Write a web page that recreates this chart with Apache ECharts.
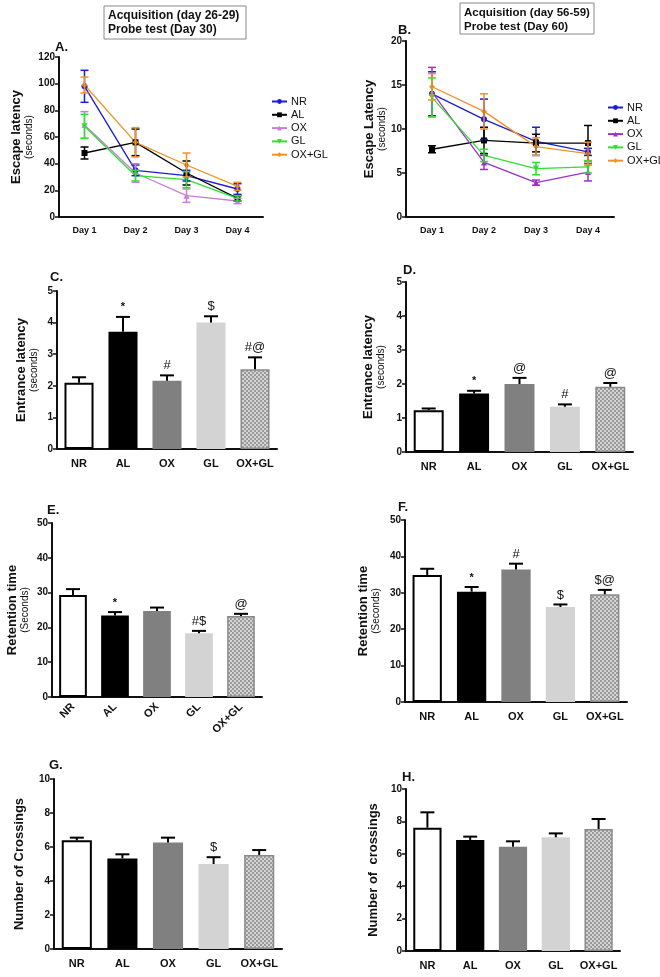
<!DOCTYPE html>
<html><head><meta charset="utf-8">
<script src="https://cdn.jsdelivr.net/npm/echarts@6/dist/echarts.min.js"></script>
<style>html,body{margin:0;padding:0;background:#fff}#c{width:660px;height:977px}</style>
</head><body><div id="c"></div>
<script>
// ---------- DATA ----------
const days = ['Day 1', 'Day 2', 'Day 3', 'Day 4'];
const groups = ['NR', 'AL', 'OX', 'GL', 'OX+GL'];

// Panel A: escape latency (day 26-29)
const aNR = [98, 35, 31, 21],  aNRerr = [12, 4, 4, 4];
const aAL = [48, 56, 33, 14],  aALerr = [4.5, 10, 9, 2];
const aOX = [69, 33, 16, 12],  aOXerr = [10, 7, 5, 2];
const aGL = [68, 31, 28, 14],  aGLerr = [9, 4, 6, 2];
const aOG = [99, 56, 39, 23],  aOGerr = [6, 11, 9, 3];

// Panel B: escape latency (day 56-59)
const bNR = [14.0, 11.1, 8.6, 7.4], bNRerr = [2.5, 2.3, 1.6, 0.4];
const bAL = [7.7, 8.7, 8.4, 8.4],   bALerr = [0.4, 1.5, 1.0, 2.0];
const bOX = [14.2, 6.2, 3.9, 5.1],  bOXerr = [2.8, 0.8, 0.3, 1.0];
const bGL = [13.6, 7.0, 5.5, 5.7],  bGLerr = [2.2, 0.7, 0.7, 0.7];
const bOG = [14.8, 12.0, 8.0, 7.2], bOGerr = [1.5, 2.0, 1.0, 1.3];

// Bar panels
const cVals = [2.10, 3.71, 2.16, 4.00, 2.52], cErr = [0.17, 0.47, 0.17, 0.20, 0.38], cSig = ['', '*', '#', '$', '#@'];
const dVals = [1.23, 1.72, 2.00, 1.33, 1.92], dErr = [0.05, 0.08, 0.18, 0.07, 0.11], dSig = ['', '*', '@', '#', '@'];
const eVals = [29.3, 23.4, 24.7, 18.3, 23.3], eErr = [1.7, 1.0, 1.0, 0.7, 0.6], eSig = ['', '*', '', '#$', '@'];
const fVals = [34.9, 30.3, 36.4, 26.1, 29.6], fErr = [1.7, 1.3, 1.6, 0.7, 1.2], fSig = ['', '*', '#', '$', '$@'];
const gVals = [6.39, 5.33, 6.27, 5.00, 5.53], gErr = [0.16, 0.24, 0.28, 0.40, 0.29], gSig = ['', '', '', '$', ''];
const hVals = [7.61, 6.85, 6.44, 7.02, 7.53], hErr = [0.95, 0.21, 0.33, 0.24, 0.62], hSig = ['', '', '', '', ''];

// ---------- STYLE ----------
const FONT = '"Liberation Sans", Arial, sans-serif';
const checker = document.createElement('canvas');
checker.width = 4; checker.height = 4;
(function () {
  const cx = checker.getContext('2d');
  cx.fillStyle = '#d4d4d4'; cx.fillRect(0, 0, 4, 4);
  cx.fillStyle = '#9a9a9a'; cx.fillRect(0, 0, 2, 2); cx.fillRect(2, 2, 2, 2);
})();
const barStyles = [
  { color: '#ffffff', borderColor: '#000', borderWidth: 2 },
  { color: '#000000' },
  { color: '#808080' },
  { color: '#d3d3d3' },
  { color: { image: checker, repeat: 'repeat' }, borderColor: '#8a8a8a', borderWidth: 1.5 }
];

const grids = [
  { left: 59, top: 57, width: 204, height: 160 },   // A
  { left: 406, top: 41, width: 208, height: 176 },  // B
  { left: 57, top: 291, width: 220, height: 158 },  // C
  { left: 406, top: 282, width: 227, height: 170 }, // D
  { left: 52, top: 523, width: 210, height: 174 },  // E
  { left: 405, top: 520, width: 222, height: 182 }, // F
  { left: 54, top: 779, width: 228, height: 170 },  // G
  { left: 406, top: 789, width: 214, height: 162 }  // H
];

function xAxis(i, data, rotate) {
  return {
    type: 'category', gridIndex: i, data: data,
    axisLine: { lineStyle: { color: '#111', width: 2 } },
    axisTick: { alignWithLabel: true, length: 4, lineStyle: { color: '#111', width: 1.5 } },
    axisLabel: { interval: 0, color: '#111', fontFamily: FONT, fontWeight: 'bold', fontSize: i < 2 ? 9 : 11, rotate: rotate || 0, margin: rotate ? 8 : 9 },
    splitLine: { show: false }
  };
}
function yAxis(i, max, interval, name, gap) {
  return {
    type: 'value', gridIndex: i, min: 0, max: max, interval: interval,
    axisLine: { show: true, lineStyle: { color: '#111', width: 2 } },
    axisTick: { show: true, length: 4, lineStyle: { color: '#111', width: 1.5 } },
    axisLabel: { color: '#111', fontFamily: FONT, fontWeight: 'bold', fontSize: 10, margin: 4 },
    splitLine: { show: false },
    name: name, nameLocation: 'middle', nameGap: gap, nameRotate: 90,
    nameTextStyle: {
      color: '#111', fontFamily: FONT, align: 'center',
      rich: {
        a: { fontFamily: FONT, fontWeight: 'bold', fontSize: 13, color: '#111', lineHeight: 14 },
        b: { fontFamily: FONT, fontSize: 10, color: '#111', lineHeight: 12 }
      }
    }
  };
}

const series = [];
function addLine(gi, name, vals, errs, color, symbol, rotate) {
  series.push({
    type: 'line', name: name, xAxisIndex: gi, yAxisIndex: gi, data: vals,
    symbol: symbol, symbolSize: 6, symbolRotate: rotate || 0,
    itemStyle: { color: color }, lineStyle: { color: color, width: 1.3 }, z: 3
  });
  series.push({
    type: 'custom', xAxisIndex: gi, yAxisIndex: gi, z: 4, silent: true,
    encode: { x: 0, y: 1 },
    data: vals.map((v, k) => [k, v, errs[k]]),
    renderItem: function (params, api) {
      const x = api.value(0), v = api.value(1), e = api.value(2);
      const t = api.coord([x, v + e]), b = api.coord([x, v - e]);
      const st = { stroke: color, lineWidth: 1.5 };
      return { type: 'group', children: [
        { type: 'line', shape: { x1: t[0], y1: t[1], x2: b[0], y2: b[1] }, style: st },
        { type: 'line', shape: { x1: t[0] - 4, y1: t[1], x2: t[0] + 4, y2: t[1] }, style: st },
        { type: 'line', shape: { x1: b[0] - 4, y1: b[1], x2: b[0] + 4, y2: b[1] }, style: st }
      ] };
    }
  });
}
function addBars(gi, vals, errs, sig) {
  series.push({
    type: 'bar', xAxisIndex: gi, yAxisIndex: gi, barWidth: '66%',
    data: vals.map((v, k) => ({ value: v, itemStyle: barStyles[k] })), z: 2
  });
  series.push({
    type: 'custom', xAxisIndex: gi, yAxisIndex: gi, z: 4, silent: true,
    encode: { x: 0, y: 1 },
    data: vals.map((v, k) => [k, v, errs[k]]),
    renderItem: function (params, api) {
      const x = api.value(0), v = api.value(1), e = api.value(2);
      const s = sig[params.dataIndex];
      const t = api.coord([x, v + e]), b = api.coord([x, v]);
      const st = { stroke: '#000', lineWidth: 2 };
      const ch = [
        { type: 'line', shape: { x1: t[0], y1: t[1], x2: b[0], y2: b[1] }, style: st },
        { type: 'line', shape: { x1: t[0] - 7, y1: t[1], x2: t[0] + 7, y2: t[1] }, style: st }
      ];
      if (s) {
        const star = s === '*';
        ch.push({ type: 'text', style: {
          text: s, x: t[0], y: t[1] - (star ? 4 : 3), align: 'center', verticalAlign: 'bottom',
          font: (star ? 'bold 11px ' : '13px ') + FONT, fill: '#111'
        } });
      }
      return { type: 'group', children: ch };
    }
  });
}

const symNR = 'circle', symAL = 'rect', symOX = 'triangle', symGL = 'triangle', symOG = 'diamond';
const colA = ['#1c1cd6', '#000000', '#c77ddc', '#2fe02f', '#f39222'];
const colB = ['#1c1cd6', '#000000', '#9b30cc', '#2fe02f', '#f39222'];
addLine(0, 'NR', aNR, aNRerr, colA[0], symNR);
addLine(0, 'AL', aAL, aALerr, colA[1], symAL);
addLine(0, 'OX', aOX, aOXerr, colA[2], symOX);
addLine(0, 'GL', aGL, aGLerr, colA[3], symGL, 180);
addLine(0, 'OX+GL', aOG, aOGerr, colA[4], symOG);
addLine(1, 'NR', bNR, bNRerr, colB[0], symNR);
addLine(1, 'AL', bAL, bALerr, colB[1], symAL);
addLine(1, 'OX', bOX, bOXerr, colB[2], symOX);
addLine(1, 'GL', bGL, bGLerr, colB[3], symGL, 180);
addLine(1, 'OX+GL', bOG, bOGerr, colB[4], symOG);
addBars(2, cVals, cErr, cSig);
addBars(3, dVals, dErr, dSig);
addBars(4, eVals, eErr, eSig);
addBars(5, fVals, fErr, fSig);
addBars(6, gVals, gErr, gSig);
addBars(7, hVals, hErr, hSig);

function legendData(cols) {
  return groups.map((g, k) => ({ name: g, itemStyle: { color: cols[k] }, lineStyle: { color: cols[k] } }));
}
function legend(left, top, cols) {
  return {
    orient: 'vertical', left: left, top: top, itemWidth: 15, itemHeight: 6, itemGap: 2.3,
    selectedMode: false, data: legendData(cols),
    textStyle: { fontFamily: FONT, fontSize: 11, color: '#111', padding: [0, 0, 0, -1] }
  };
}

function box(x, y, w, h, l1, l2, fs) {
  return { type: 'group', children: [
    { type: 'rect', shape: { x: x, y: y, width: w, height: h }, style: { fill: '#fff', stroke: '#888', lineWidth: 1 } },
    { type: 'text', style: { text: l1, x: x + 4, y: y + 10, verticalAlign: 'middle', font: 'bold ' + fs + 'px ' + FONT, fill: '#111' } },
    { type: 'text', style: { text: l2, x: x + 4, y: y + 24, verticalAlign: 'middle', font: 'bold ' + fs + 'px ' + FONT, fill: '#111' } }
  ] };
}
function plabel(t, x, y) {
  return { type: 'text', style: { text: t, x: x, y: y, verticalAlign: 'middle', font: 'bold 13px ' + FONT, fill: '#111' } };
}

const option = {
  animation: false,
  backgroundColor: '#fff',
  grid: grids,
  xAxis: [
    xAxis(0, days), xAxis(1, days), xAxis(2, groups), xAxis(3, groups),
    xAxis(4, groups, 45), xAxis(5, groups), xAxis(6, groups), xAxis(7, groups)
  ],
  yAxis: [
    yAxis(0, 120, 20, '{a|Escape latency}\n{b|(seconds)}', 18),
    yAxis(1, 20, 5, '{a|Escape Latency}\n{b|(seconds)}', 18),
    yAxis(2, 5, 1, '{a|Entrance latency}\n{b|(seconds)}', 17),
    yAxis(3, 5, 1, '{a|Entrance latency}\n{b|(seconds)}', 19),
    yAxis(4, 50, 10, '{a|Retention time}\n{b|(Seconds)}', 21),
    yAxis(5, 50, 10, '{a|Retention time}\n{b|(Seconds)}', 23),
    yAxis(6, 10, 2, '{a|Number of Crossings}', 28),
    yAxis(7, 10, 2, '{a|Number of  crossings}', 26)
  ],
  legend: [legend(266, 91, colA), legend(602, 97, colB)],
  series: series,
  graphic: [
    box(104, 6, 142, 33, 'Acquisition (day 26-29)', 'Probe test (Day 30)', 12),
    box(460, 3, 134, 31, 'Acquisition (day 56-59)', 'Probe test (Day 60)', 11.5),
    plabel('A.', 55, 47), plabel('B.', 398, 30), plabel('C.', 50, 277), plabel('D.', 403, 270),
    plabel('E.', 47, 510), plabel('F.', 398, 507), plabel('G.', 49, 765), plabel('H.', 402, 777)
  ]
};
echarts.init(document.getElementById('c'), null, { renderer: 'canvas' }).setOption(option);
</script></body></html>
